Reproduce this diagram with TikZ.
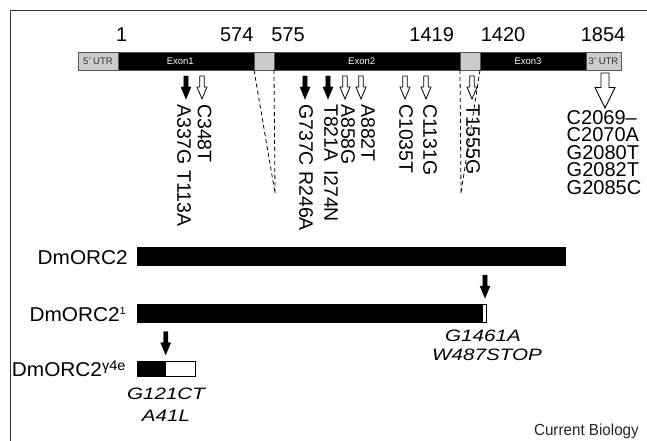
\documentclass[tikz,border=0pt]{standalone}
\usepackage{fontspec}
\setmainfont{Liberation Sans}
\definecolor{boxgray}{HTML}{CCCCCC}
\definecolor{edgegray}{HTML}{555555}
\tikzset{
  solidarrow/.pic={\filldraw[black, line width=0.4pt] (-2.2,0) -- (2.2,0) -- (2.2,11) -- (5,11) -- (0,23) -- (-5,11) -- (-2.2,11) -- cycle;},
  openarrow/.pic={\filldraw[fill=white, draw=black, line width=0.8pt] (-2.2,0) -- (2.2,0) -- (2.2,11) -- (5,11) -- (0,23) -- (-5,11) -- (-2.2,11) -- cycle;},
  bigarrow/.pic={\filldraw[fill=white, draw=black, line width=0.9pt] (-4,0) -- (4,0) -- (4,14.5) -- (10,14.5) -- (0,35) -- (-10,14.5) -- (-4,14.5) -- cycle;}
}
\begin{document}
\begin{tikzpicture}[x=1pt,y=-1pt,
  seg/.style={draw=edgegray, line width=0.7pt, minimum height=18pt, inner sep=0pt, outer sep=0pt, anchor=north west},
  blackseg/.style={seg, fill=black},
  grayseg/.style={seg, fill=boxgray, text=black!80, font=\fontsize{9.5}{9.5}\selectfont},
  exlab/.style={inner sep=0pt, text=white, font=\fontsize{9.5}{9.5}\selectfont},
  num/.style={anchor=base, inner sep=0pt, font=\fontsize{20}{20}\selectfont},
  vlab/.style={rotate=-90, anchor=west, inner sep=0pt, font=\fontsize{19.5}{19.5}\selectfont},
  dashline/.style={dash pattern=on 4pt off 3pt, line width=0.8pt},
  prot/.style={draw=black, line width=0.7pt, inner sep=0pt, outer sep=0pt, anchor=north west},
  protname/.style={inner sep=0pt, xscale=1.04, font=\fontsize{20}{20}\selectfont},
  mutlab/.style={anchor=base, inner sep=0pt, xscale=1.25, font=\fontsize{16.5}{16.5}\selectfont\itshape}
]
\useasboundingbox (0,0) rectangle (647,441);
% frame
\coordinate (fl) at (10.7,441);
\coordinate (fc) at (10.7,10.7);
\coordinate (fr) at (647,10.7);
\draw[line width=1pt, black!80] (fl) -- (fc) -- (fr);

% gene bar
\node[grayseg, minimum width=40pt] (utr5) at (78,52) {5’ UTR};
\node[blackseg, minimum width=136pt] (ex1) at (118,52) {};
\node[grayseg, minimum width=20pt] (in1) at (254,52) {};
\node[blackseg, minimum width=186pt] (ex2) at (274,52) {};
\node[grayseg, minimum width=20pt] (in2) at (460,52) {};
\node[blackseg, minimum width=106pt] (ex3) at (480,52) {};
\node[grayseg, minimum width=35pt] (utr3) at (586,52) {3’ UTR};
\node[exlab] (t1) at (180.3,61) {Exon1};
\node[exlab] (t2) at (361.7,61) {Exon2};
\node[exlab] (t3) at (528,61) {Exon3};

% numbers
\node[num] (n1) at (121.7,41.7) {1};
\node[num] (n2) at (236.7,41.7) {574};
\node[num] (n3) at (288,41.7) {575};
\node[num] (n4) at (431.7,41.7) {1419};
\node[num] (n5) at (503,41.7) {1420};
\node[num] (n6) at (603,41.7) {1854};

% dashed intron lines
\coordinate (d1) at (275,193);
\draw[dashline] (in1.south west) -- (d1);
\draw[dashline] (in1.south east) -- (d1);
\coordinate (d2) at (461,193);
\draw[dashline] (in2.south west) -- (d2);
\draw[dashline] (in2.south east) -- (d2);

% arrows on gene
\pic at (186,76) {solidarrow};
\pic at (202,76) {openarrow};
\pic at (305,76) {solidarrow};
\pic at (328,76) {solidarrow};
\pic at (345,76) {openarrow};
\pic at (361,76) {openarrow};
\pic at (405,76) {openarrow};
\pic at (426,76) {openarrow};
\pic at (472,76) {openarrow};
\pic at (605,73) {bigarrow};

% vertical mutation labels
\node[vlab] (m1) at (184,104) {A337G T113A};
\node[vlab] (m2) at (204.5,104) {C348T};
\node[vlab] (m3) at (306,104) {G737C R246A};
\node[vlab] (m4) at (331,104) {T821A\hspace{3pt} I274N};
\node[vlab] (m5) at (348,104) {A858G};
\node[vlab] (m6) at (368,104) {A882T};
\node[vlab] (m7) at (406,104) {C1035T};
\node[vlab] (m8) at (430,104) {C1131G};
\node[vlab] (m9) at (473,104) {T1555G};

\node[anchor=north west, inner sep=0pt, align=left, font=\fontsize{20}{17.5}\selectfont] (utrmut) at (566.5,110) {C2069–\\C2070A\\G2080T\\G2082T\\G2085C};

% proteins
\node[protname, anchor=base east] (lab1) at (128,264) {DmORC2};
\node[prot, fill=black, minimum width=427.7pt, minimum height=18pt] (p1) at (137.3,247.7) {};

\node[protname, anchor=base west] (lab2) at (29.3,321) {DmORC2\raisebox{6.8pt}{\fontsize{10.5}{10.5}\selectfont 1}};
\node[prot, fill=black, minimum width=345.4pt, minimum height=18pt] (p2) at (137.3,304.3) {};
\node[prot, fill=white, minimum width=3.3pt, minimum height=18pt] (p2w) at (p2.north east) {};
\pic at (485,275) {solidarrow};
\node[mutlab] (g1) at (483,341.7) {G1461A};
\node[mutlab] (g2) at (487,360) {W487STOP};

\node[protname, anchor=base west] (lab3) at (11.7,376) {DmORC2\raisebox{5.8pt}{\fontsize{14}{14}\selectfont γ4e}};
\node[prot, fill=black, minimum width=28.4pt, minimum height=15pt] (p3) at (137.3,361.7) {};
\node[prot, fill=white, minimum width=29.3pt, minimum height=15pt] (p3w) at (p3.north east) {};
\pic at (165.7,331.7) {solidarrow};
\node[mutlab] (g3) at (166,399) {G121CT};
\node[mutlab] (g4) at (166,421.7) {A41L};

\node[anchor=base east, inner sep=0pt, xscale=0.95, text=black!85, font=\fontsize{16}{16}\selectfont] (cb) at (639,435) {Current Biology};
\end{tikzpicture}
\end{document}
